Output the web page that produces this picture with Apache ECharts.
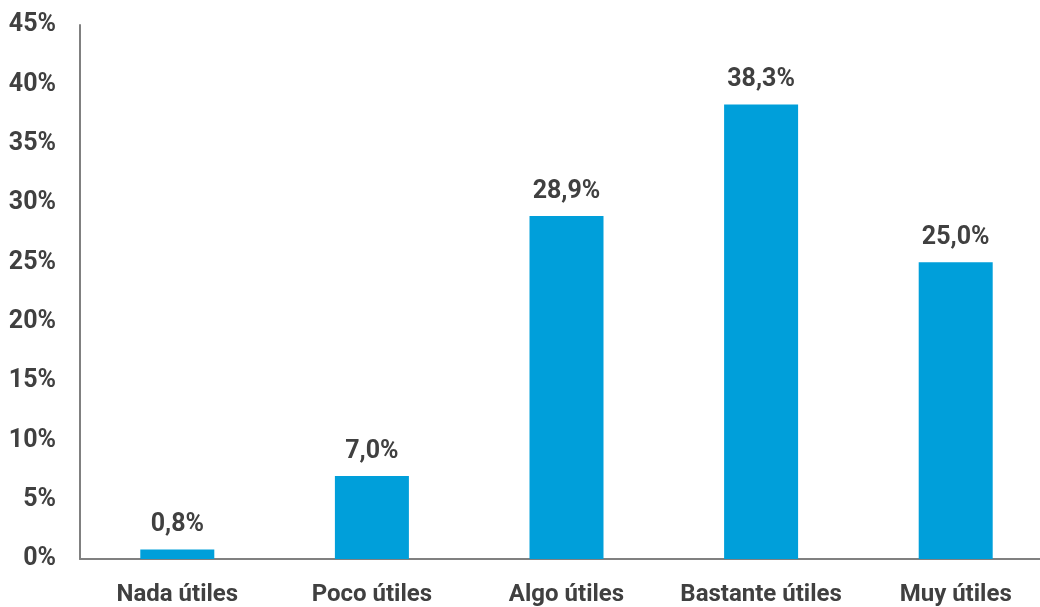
<!DOCTYPE html>
<html><head><meta charset="utf-8">
<script src="https://cdn.jsdelivr.net/npm/echarts@6/dist/echarts.min.js"></script>
<style>html,body{margin:0;padding:0;background:#fff;overflow:hidden}#c{width:1053px;height:607px}</style>
</head><body><div id="c"></div>
<script>
const categories = ["Nada útiles", "Poco útiles", "Algo útiles", "Bastante útiles", "Muy útiles"];
const values = [0.8, 7.0, 28.9, 38.3, 25.0];
const FONT = 'Roboto, sans-serif';
const chart = echarts.init(document.getElementById('c'));
chart.setOption({
  animation: false,
  grid: { left: 80, top: 25, bottom: 48, right: 0 },
  xAxis: {
    type: 'category', data: categories,
    axisLine: { lineStyle: { color: '#808080', width: 2 } },
    axisTick: { show: false },
    axisLabel: { interval: 0, color: '#404040', fontFamily: FONT, fontWeight: 'bold', fontSize: 24, margin: 24 }
  },
  yAxis: {
    type: 'value', min: 0, max: 45, interval: 5,
    axisLine: { show: true, lineStyle: { color: '#808080', width: 2 } },
    axisTick: { show: false },
    splitLine: { show: false },
    axisLabel: { color: '#404040', fontFamily: FONT, fontWeight: 'bold', fontSize: 25, margin: 24,
      formatter: v => v + '%' }
  },
  series: [{
    type: 'bar', data: values, barWidth: 74,
    itemStyle: { color: '#009FDA' },
    label: { show: true, position: 'top', distance: 12, color: '#404040', fontFamily: FONT,
      fontWeight: 'bold', fontSize: 25,
      formatter: p => p.value.toFixed(1).replace('.', ',') + '%' }
  }]
});
</script></body></html>
